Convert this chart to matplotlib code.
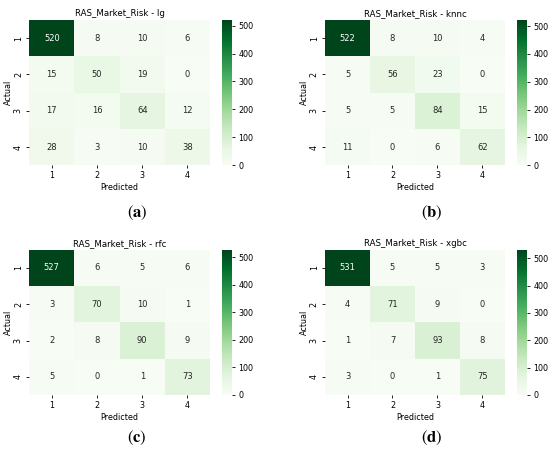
import numpy as np
import matplotlib
matplotlib.use("Agg")
import matplotlib.pyplot as plt
import seaborn as sns

labels = [1, 2, 3, 4]
models = ["lg", "knnc", "rfc", "xgbc"]
tags = ["a", "b", "c", "d"]

cm_lg = [[520, 8, 10, 6],
         [15, 50, 19, 0],
         [17, 16, 64, 12],
         [28, 3, 10, 38]]
cm_knnc = [[522, 8, 10, 4],
           [5, 56, 23, 0],
           [5, 5, 84, 15],
           [11, 0, 6, 62]]
cm_rfc = [[527, 6, 5, 6],
          [3, 70, 10, 1],
          [2, 8, 90, 9],
          [5, 0, 1, 73]]
cm_xgbc = [[531, 5, 5, 3],
           [4, 71, 9, 0],
           [1, 7, 93, 8],
           [3, 0, 1, 75]]
matrices = [cm_lg, cm_knnc, cm_rfc, cm_xgbc]

plt.rcParams["mathtext.fontset"] = "stix"

fig = plt.figure(figsize=(5.5, 4.55), dpi=100)

# panel boxes in figure fraction: [left, bottom, width, height], colorbar left
boxes = [(0.053, 0.637, 0.329, 0.319, 0.404),
         (0.591, 0.637, 0.327, 0.319, 0.940),
         (0.053, 0.132, 0.329, 0.319, 0.404),
         (0.591, 0.132, 0.327, 0.319, 0.940)]
tag_pos = [(0.249, 0.532), (0.785, 0.532), (0.249, 0.037), (0.785, 0.037)]

for cm, name, tag, box, tp in zip(matrices, models, tags, boxes, tag_pos):
    l, b, w, h, cl = box
    ax = fig.add_axes([l, b, w, h])
    cax = fig.add_axes([cl, b, 0.018, h])
    sns.heatmap(np.array(cm), annot=True, fmt="d", cmap="Greens",
                xticklabels=labels, yticklabels=labels, ax=ax, cbar_ax=cax,
                annot_kws={"fontsize": 6})
    ax.set_title("RAS_Market_Risk - " + name, fontsize=6.2, pad=3)
    ax.set_xlabel("Predicted", fontsize=5.8, labelpad=2)
    ax.set_ylabel("Actual", fontsize=5.8, labelpad=0.5)
    ax.tick_params(labelsize=5.8, length=2.5, width=0.6, pad=2)
    plt.setp(ax.get_yticklabels(), rotation=90, va="center")
    plt.setp(ax.get_xticklabels(), rotation=0)
    cax.tick_params(labelsize=5.8, length=2.5, width=0.6, pad=2)
    cax.set_yticks([0, 100, 200, 300, 400, 500])
    for s in cax.spines.values():
        s.set_visible(False)
    fig.text(tp[0], tp[1], r"$(\mathbf{" + tag + "})$", fontsize=12,
             ha="center", va="center")

fig.savefig("out.png", dpi=100)
